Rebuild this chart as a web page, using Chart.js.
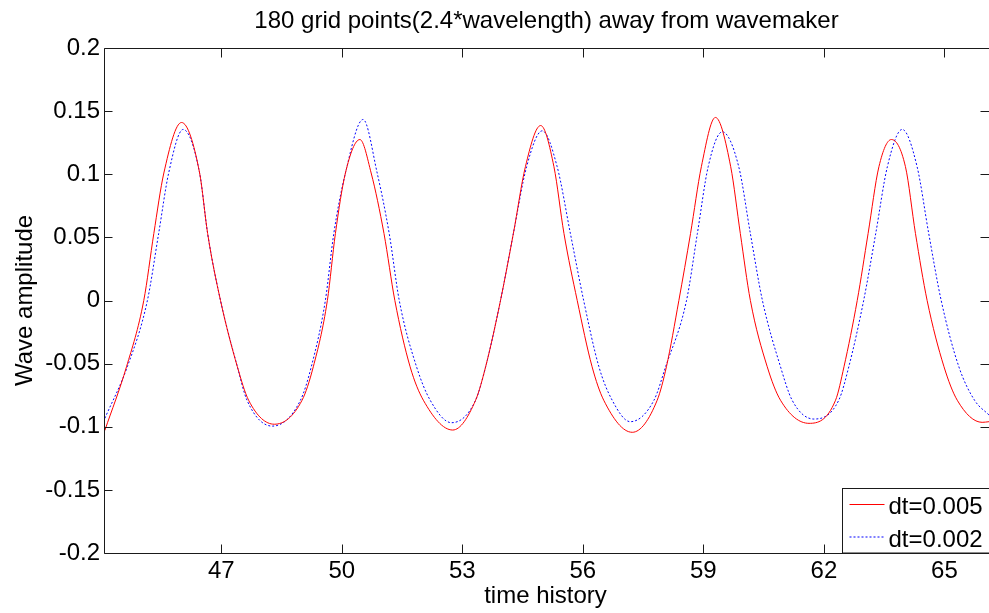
<!DOCTYPE html>
<html>
<head>
<meta charset="utf-8">
<script src="https://cdn.jsdelivr.net/npm/chart.js@4/dist/chart.umd.min.js"></script>
<style>
  html, body { margin: 0; padding: 0; background: #fff; }
  #plot { display: block; }
</style>
</head>
<body>
<canvas id="plot" width="989" height="613"></canvas>
<script>
// values
const tRed = [44.10, 44.64, 45.07, 45.32, 45.57, 46.01, 46.46, 46.66, 46.98, 47.40, 47.68, 48.32,
  49.01, 49.29, 49.64, 49.84, 50.09, 50.45, 50.73, 51.05, 51.32, 51.70, 52.03, 52.76,
  53.33, 53.58, 53.95, 54.27, 54.57, 54.95, 55.28, 55.53, 55.86, 56.23, 56.52, 57.23,
  57.85, 58.08, 58.39, 58.68, 58.95, 59.30, 59.68, 59.92, 60.17, 60.59, 60.92, 61.63,
  62.29, 62.50, 62.83, 63.10, 63.37, 63.68, 64.03, 64.28, 64.57, 64.99, 65.32, 65.94, 66.11];
const ampRed = [-0.103, -0.0525, 0.000, 0.053, 0.101, 0.141, 0.101, 0.053, 0.000, -0.0525, -0.079, -0.098,
  -0.079, -0.0525, 0.000, 0.053, 0.101, 0.1275, 0.101, 0.053, 0.000, -0.0525, -0.079, -0.1026,
  -0.079, -0.0525, 0.000, 0.053, 0.106, 0.1386, 0.106, 0.053, 0.000, -0.0525, -0.079, -0.1044,
  -0.079, -0.0525, 0.000, 0.053, 0.106, 0.145, 0.106, 0.053, 0.000, -0.0525, -0.079, -0.0973,
  -0.079, -0.0525, 0.000, 0.053, 0.106, 0.1275, 0.106, 0.053, 0.000, -0.0525, -0.079, -0.0965, -0.096];

const tBlue = [44.10, 44.66, 45.16, 45.44, 45.69, 46.05, 46.46, 46.66, 46.98, 47.40, 47.64, 48.27,
  48.97, 49.24, 49.59, 49.80, 50.09, 50.53, 50.88, 51.18, 51.43, 51.86, 52.20, 52.73,
  53.33, 53.58, 53.95, 54.27, 54.60, 54.99, 55.36, 55.69, 56.02, 56.40, 56.73, 57.18,
  57.77, 58.06, 58.58, 58.85, 59.12, 59.47, 59.88, 60.17, 60.47, 60.92, 61.21, 61.75,
  62.37, 62.62, 62.99, 63.29, 63.58, 63.95, 64.32, 64.61, 64.92, 65.36, 65.75, 66.11];
const ampBlue = [-0.0934, -0.0525, 0.000, 0.053, 0.101, 0.1355, 0.101, 0.053, 0.000, -0.0525, -0.079, -0.0995,
  -0.079, -0.0525, 0.000, 0.053, 0.101, 0.1434, 0.101, 0.053, 0.000, -0.0525, -0.079, -0.0968,
  -0.079, -0.0525, 0.000, 0.053, 0.106, 0.1344, 0.106, 0.053, 0.000, -0.0525, -0.079, -0.096,
  -0.079, -0.0525, 0.000, 0.053, 0.106, 0.1336, 0.106, 0.053, 0.000, -0.0525, -0.079, -0.0939,
  -0.079, -0.0525, 0.000, 0.053, 0.106, 0.1355, 0.106, 0.053, 0.000, -0.0525, -0.079, -0.0907];

const seriesNames = ['dt=0.005', 'dt=0.002'];
const xTicks = [47, 50, 53, 56, 59, 62, 65];
const yTicks = [-0.2, -0.15, -0.1, -0.05, 0, 0.05, 0.1, 0.15, 0.2];
const yTickLabels = ['-0.2', '-0.15', '-0.1', '-0.05', '0', '0.05', '0.1', '0.15', '0.2'];
const titleText = '180 grid points(2.4*wavelength) away from wavemaker';
const xLabel = 'time history';
const yLabel = 'Wave amplitude';

const FONT = '"Liberation Sans", Arial, sans-serif';

const toPoints = (xs, ys) => xs.map((x, i) => ({ x: x, y: ys[i] }));

// matlab style box, inward ticks, titles and legend
const framePlugin = {
  id: 'frame',
  afterDraw(chart) {
    const { ctx, chartArea: a, scales } = chart;
    const L = a.left + 0.5, R = a.right + 0.5, T = a.top + 0.5, B = a.bottom + 0.5;
    ctx.save();
    ctx.strokeStyle = '#1a1a1a';
    ctx.lineWidth = 1;
    ctx.beginPath();
    ctx.rect(L, T, R - L, B - T);
    xTicks.forEach(v => {
      const px = Math.round(scales.x.getPixelForValue(v)) + 0.5;
      ctx.moveTo(px, B); ctx.lineTo(px, B - 9);
      ctx.moveTo(px, T); ctx.lineTo(px, T + 9);
    });
    yTicks.forEach(v => {
      const py = Math.round(scales.y.getPixelForValue(v)) + 0.5;
      ctx.moveTo(L, py); ctx.lineTo(L + 8, py);
      ctx.moveTo(R, py); ctx.lineTo(R - 9, py);
    });
    ctx.stroke();

    ctx.fillStyle = '#000';
    ctx.font = '24px ' + FONT;
    ctx.textAlign = 'center';
    ctx.textBaseline = 'alphabetic';
    const cx = (a.left + a.right) / 2;
    ctx.fillText(titleText, cx, 28);
    ctx.fillText(xLabel, cx - 1, 603);
    ctx.save();
    ctx.translate(32, (a.top + a.bottom) / 2);
    ctx.rotate(-Math.PI / 2);
    ctx.fillText(yLabel, 0, 0);
    ctx.restore();

    // legend box in the lower right corner
    const bx = Math.round(a.right - 147) + 0.5;
    const by = Math.round(a.bottom - 65) + 0.5;
    ctx.fillStyle = '#fff';
    ctx.fillRect(bx, by, a.right - bx + 2, a.bottom - by);
    ctx.strokeStyle = '#1a1a1a';
    ctx.strokeRect(bx, by, a.right - bx + 2, a.bottom - by);
    chart.data.datasets.forEach((ds, i) => {
      const ly = by + 16 + i * 32.5;
      ctx.strokeStyle = ds.borderColor;
      ctx.lineWidth = 1;
      ctx.setLineDash(ds.borderDash || []);
      ctx.beginPath();
      ctx.moveTo(bx + 7, ly);
      ctx.lineTo(bx + 42, ly);
      ctx.stroke();
      ctx.setLineDash([]);
      ctx.fillStyle = '#000';
      ctx.textAlign = 'left';
      ctx.fillText(ds.label, bx + 46, ly + 9.5);
    });
    ctx.restore();
  }
};

new Chart(document.getElementById('plot').getContext('2d'), {
  type: 'line',
  data: {
    datasets: [
      {
        label: seriesNames[0],
        data: toPoints(tRed, ampRed),
        borderColor: '#ff0000',
        borderWidth: 1,
        pointRadius: 0,
        cubicInterpolationMode: 'monotone',
        fill: false,
      },
      {
        label: seriesNames[1],
        data: toPoints(tBlue, ampBlue),
        borderColor: '#0000ff',
        borderWidth: 1,
        borderDash: [2, 2],
        pointRadius: 0,
        cubicInterpolationMode: 'monotone',
        fill: false,
      },
    ],
  },
  options: {
    responsive: false,
    animation: false,
    devicePixelRatio: 1,
    layout: { padding: { top: 48, left: 0, right: 0, bottom: 0 } },
    plugins: {
      legend: { display: false },
      tooltip: { enabled: false },
      title: { display: false },
    },
    scales: {
      x: {
        type: 'linear',
        min: 44.08,
        max: 66.11,
        grid: { display: false, drawTicks: false },
        border: { display: false },
        afterBuildTicks: s => { s.ticks = xTicks.map(v => ({ value: v })); },
        afterFit: s => { s.height = 60; },
        ticks: {
          color: '#000',
          font: { family: FONT, size: 24 },
          padding: 4,
          maxRotation: 0,
          autoSkip: false,
          callback: v => String(v),
        },
      },
      y: {
        type: 'linear',
        min: -0.2,
        max: 0.2,
        grid: { display: false, drawTicks: false },
        border: { display: false },
        afterBuildTicks: s => { s.ticks = yTicks.map(v => ({ value: v })); },
        afterFit: s => { s.width = 104; },
        ticks: {
          color: '#000',
          font: { family: FONT, size: 24 },
          padding: 4,
          autoSkip: false,
          callback: v => yTickLabels[yTicks.indexOf(v)],
        },
      },
    },
  },
  plugins: [framePlugin],
});
</script>
</body>
</html>
